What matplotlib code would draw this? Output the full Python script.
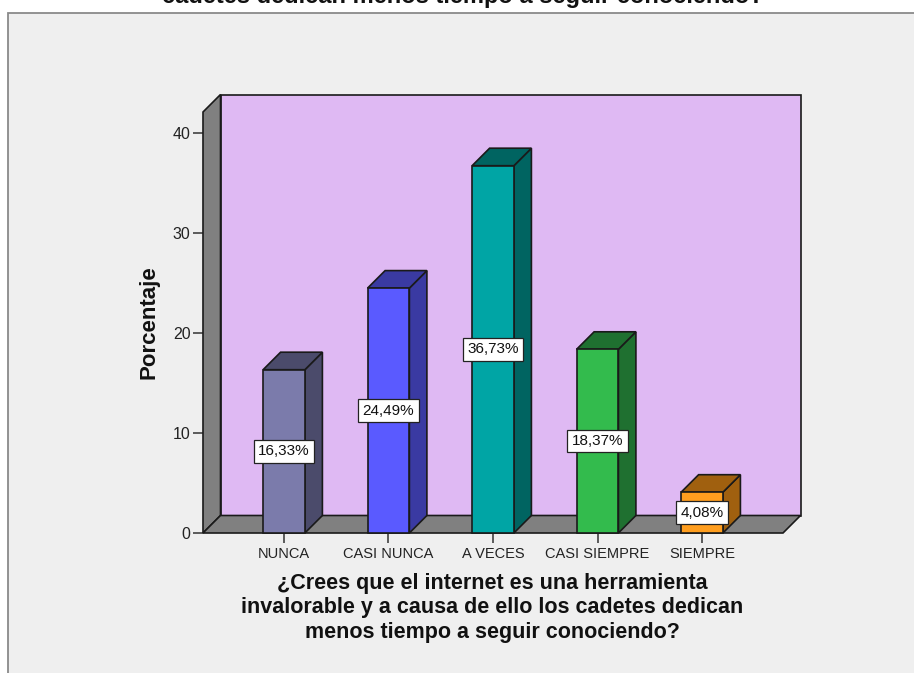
import matplotlib
matplotlib.use("Agg")
import matplotlib.pyplot as plt
from matplotlib.patches import Polygon, Rectangle

plt.rcParams["font.family"] = ["Liberation Sans", "DejaVu Sans"]

# ---- data -------------------------------------------------------------
categories = ["NUNCA", "CASI NUNCA", "A VECES", "CASI SIEMPRE", "SIEMPRE"]
percentages = [16.33, 24.49, 36.73, 18.37, 4.08]
value_labels = ["16,33%", "24,49%", "36,73%", "18,37%", "4,08%"]
y_ticks = [0, 10, 20, 30, 40]
face_colors = ["#7b7bab", "#5a5aff", "#00a5a5", "#33bb4d", "#ff9e1f"]
shade_colors = ["#4b4b6b", "#3a3aa2", "#006461", "#1f7030", "#a0600f"]

x_title = ("¿Crees que el internet es una herramienta\n"
           "invalorable y a causa de ello los cadetes dedican\n"
           "menos tiempo a seguir conociendo?")
top_title = "cadetes dedican menos tiempo a seguir conociendo?"

# ---- figure -----------------------------------------------------------
W, H, DPI = 914, 673, 100
fig = plt.figure(figsize=(W / DPI, H / DPI), dpi=DPI)
fig.patch.set_facecolor("white")

# chart frame
fig.add_artist(Rectangle((8 / W, -0.05), 1.2, (H - 13) / H + 0.05,
                         transform=fig.transFigure, fc="#efefef",
                         ec="#8a8a8a", lw=1.3, zorder=0))

fig.text(463 / W, (H - 3) / H, top_title, ha="center", va="baseline",
         fontsize=17, fontweight="bold", color="#111111")

# front plane of the 3-D box
ax_l, ax_r, ax_b, ax_t = 203, 783, 533, 112
ax = fig.add_axes([ax_l / W, (H - ax_b) / H, (ax_r - ax_l) / W, (ax_b - ax_t) / H])
ax.patch.set_visible(False)
for s in ax.spines.values():
    s.set_visible(False)

x0, x1 = -0.775, 4.775
y0, y1 = 0, 42.1
ax.set_xlim(x0, x1)
ax.set_ylim(y0, y1)

# depth offset in data units (17.5 px in both directions)
depth_px = 17.5
dx = depth_px * (x1 - x0) / (ax_r - ax_l)
dy = depth_px * (y1 - y0) / (ax_b - ax_t)

edge = "#1a1a1a"
lw = 1.2
wall_gray = "#808080"

# back wall
ax.add_patch(Rectangle((x0 + dx, y0 + dy), x1 - x0, y1 - y0, fc="#dfb9f3",
                       ec=edge, lw=lw, clip_on=False, zorder=1))
# left side wall
ax.add_patch(Polygon([(x0, y0), (x0 + dx, y0 + dy), (x0 + dx, y1 + dy), (x0, y1)],
                     closed=True, fc=wall_gray, ec=edge, lw=lw, clip_on=False, zorder=2))
# floor
ax.add_patch(Polygon([(x0, y0), (x1, y0), (x1 + dx, y0 + dy), (x0 + dx, y0 + dy)],
                     closed=True, fc=wall_gray, ec=edge, lw=lw, clip_on=False, zorder=2))

# bars
bw = 0.40
for i, (v, fc, sc, lab) in enumerate(zip(percentages, face_colors, shade_colors, value_labels)):
    l, r = i - bw / 2, i + bw / 2
    side = [(r, 0), (r + dx, dy), (r + dx, v + dy), (r, v)]
    top = [(l, v), (r, v), (r + dx, v + dy), (l + dx, v + dy)]
    ax.add_patch(Polygon(side, closed=True, fc=sc, ec=edge, lw=lw, clip_on=False, zorder=3))
    ax.add_patch(Polygon(top, closed=True, fc=sc, ec=edge, lw=lw, clip_on=False, zorder=3))
    ax.add_patch(Rectangle((l, 0), bw, v, fc=fc, ec=edge, lw=lw, clip_on=False, zorder=4))
    ax.text(i, v / 2, lab, ha="center", va="center", fontsize=11, color="#111111",
            zorder=6, bbox=dict(boxstyle="square,pad=0.28", fc="white", ec="#222222", lw=0.9))

# axes ticks
ax.set_yticks(y_ticks)
ax.set_yticklabels([str(t) for t in y_ticks])
ax.set_xticks(range(len(categories)))
ax.set_xticklabels(categories)
ax.tick_params(axis="y", length=7.5, width=1.1, color="#333333", labelsize=11.5,
               pad=1.5, labelcolor="#222222")
ax.tick_params(axis="x", length=7.5, width=1.1, color="#333333", labelsize=10.5,
               pad=2.5, labelcolor="#222222")

fig.text(149 / W, (H - 322) / H, "Porcentaje", rotation=90, ha="center", va="center",
         fontsize=16, fontweight="bold", color="#111111")
fig.text(492 / W, (H - 608) / H, x_title, ha="center", va="center", fontsize=15.5,
         fontweight="bold", color="#111111", linespacing=1.2)

fig.savefig("out.png", dpi=DPI)
